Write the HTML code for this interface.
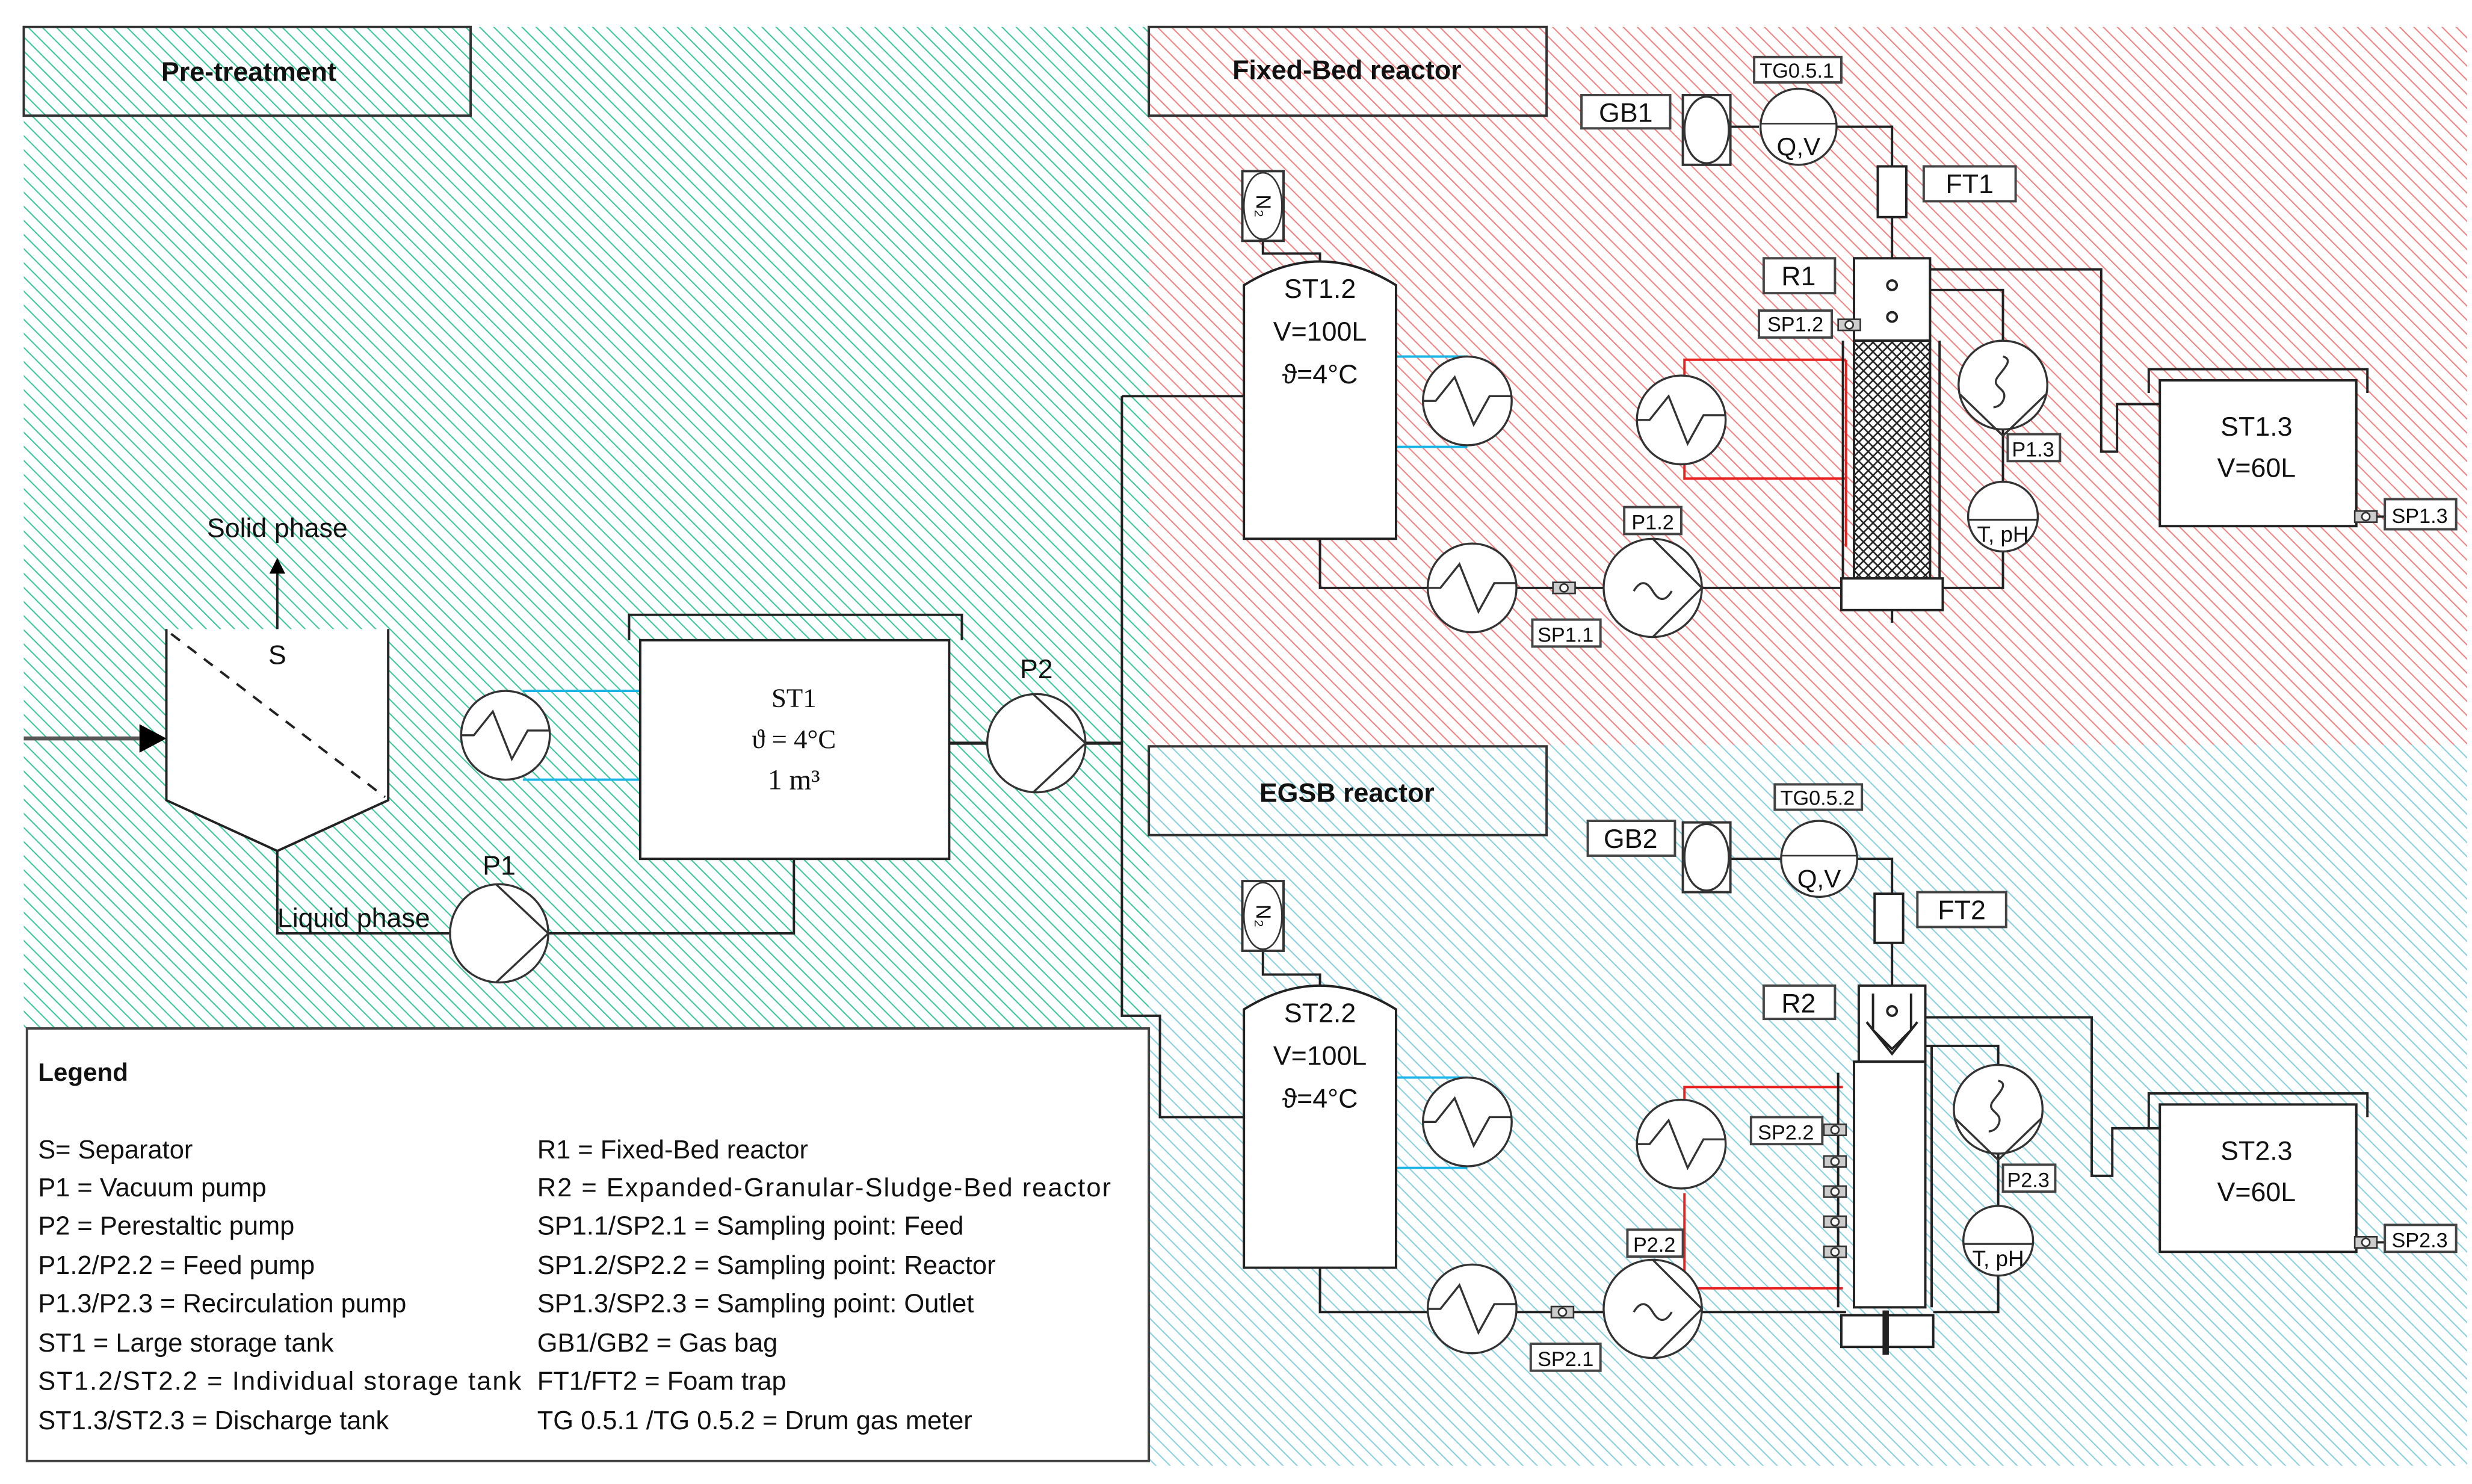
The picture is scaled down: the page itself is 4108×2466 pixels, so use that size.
<!DOCTYPE html>
<html><head><meta charset="utf-8"><style>
html,body{margin:0;padding:0;background:#fff}
svg{display:block}
text{font-family:"Liberation Sans",sans-serif;fill:#111}
</style></head><body>
<svg width="4108" height="2466" viewBox="0 0 1560 936.5" preserveAspectRatio="none" xmlns="http://www.w3.org/2000/svg">
<defs>
<pattern id="hg" patternUnits="userSpaceOnUse" width="6.3" height="6.3" patternTransform="rotate(-45)"><rect width="6.3" height="6.3" fill="#fff"/><line x1="0" y1="0" x2="0" y2="6.3" stroke="#3cc79c" stroke-width="1.6"/></pattern>
<pattern id="hr" patternUnits="userSpaceOnUse" width="6.3" height="6.3" patternTransform="rotate(-45)"><rect width="6.3" height="6.3" fill="#fff"/><line x1="0" y1="0" x2="0" y2="6.3" stroke="#f08484" stroke-width="1.6"/></pattern>
<pattern id="hb" patternUnits="userSpaceOnUse" width="6.3" height="6.3" patternTransform="rotate(-45)"><rect width="6.3" height="6.3" fill="#fff"/><line x1="0" y1="0" x2="0" y2="6.3" stroke="#8acfdf" stroke-width="1.6"/></pattern>
<pattern id="xh" patternUnits="userSpaceOnUse" width="6" height="6"><rect width="6" height="6" fill="#fff"/><path d="M0,0L6,6M6,0L0,6" stroke="#222" stroke-width="1"/></pattern>
<g id="hx"><circle r="28" fill="#fff" stroke="#333" stroke-width="1.3"/><polyline points="-28,0 -20,0 -8,-15 4,15 14,-3 28,-3" fill="none" stroke="#333" stroke-width="1.3"/></g>
<g id="pump"><circle r="31" fill="#fff" stroke="#333" stroke-width="1.3"/><path d="M-2,-31L31,0L-2,31" fill="none" stroke="#333" stroke-width="1.3"/></g>
<g id="fpump"><circle r="31" fill="#fff" stroke="#333" stroke-width="1.3"/><path d="M0,-31L31,0L0,31" fill="none" stroke="#333" stroke-width="1.3"/><path d="M-12,2 q6,-10 12,0 t12,0" fill="none" stroke="#333" stroke-width="1.3"/></g>
<g id="rpump"><circle r="28" fill="#fff" stroke="#333" stroke-width="1.3"/><path d="M-27,6L0,32L27,6" fill="none" stroke="#333" stroke-width="1.3"/><path d="M0,-18 c8,2 -2,10 -4,14 c-3,6 8,6 4,14 c-2,4 -6,4 -6,4" fill="none" stroke="#333" stroke-width="1.3"/></g>
<g id="tph"><circle r="22" fill="#fff" stroke="#333" stroke-width="1.3"/><line x1="-22" y1="2" x2="22" y2="2" stroke="#333" stroke-width="1.3"/><text x="0" y="16" font-size="14" text-anchor="middle">T, pH</text></g>
<g id="valve"><rect x="-7" y="-3.5" width="14" height="7" fill="#ccc" stroke="#333"/><circle r="2.5" fill="#fff" stroke="#333"/></g>
<g id="n2"><rect x="-13" y="-22" width="26" height="44" fill="#fff" stroke="#333" stroke-width="1.5"/><ellipse rx="12" ry="21" fill="#fff" stroke="#333"/><text x="0" y="4" font-size="13" text-anchor="middle" transform="rotate(90)">N₂</text></g>
<g id="gbag"><rect x="-15" y="-22" width="30" height="44" fill="#fff" stroke="#333" stroke-width="1.5"/><ellipse rx="14" ry="21" fill="#fff" stroke="#333" stroke-width="1.3"/></g>
<g id="meter"><circle r="24" fill="#fff" stroke="#333" stroke-width="1.3"/><line x1="-24" y1="-2" x2="24" y2="-2" stroke="#333"/><text x="0" y="18" font-size="16" text-anchor="middle">Q,V</text></g>
</defs>
<rect width="1560" height="936.5" fill="#fff"/>
<rect x="15" y="17" width="710" height="632" fill="url(#hg)"/>
<rect x="725" y="17" width="832" height="453" fill="url(#hr)"/>
<rect x="725" y="470" width="832" height="455" fill="url(#hb)"/>

<g stroke="#333" stroke-width="1.5" fill="none">
<rect x="15" y="17" width="282" height="56"/>
<rect x="725" y="17" width="251" height="56"/>
<rect x="725" y="471" width="251" height="56"/>
</g>
<text x="157" y="51" font-size="17" font-weight="bold" text-anchor="middle">Pre-treatment</text>
<text x="850" y="50" font-size="17" font-weight="bold" text-anchor="middle">Fixed-Bed reactor</text>
<text x="850" y="506" font-size="17" font-weight="bold" text-anchor="middle">EGSB reactor</text>

<g stroke="#222" stroke-width="1.5" fill="none">
<path d="M105,397V505L175,537L245,505V397" fill="#fff"/>
<line x1="108" y1="400" x2="243" y2="503" stroke-dasharray="7,6"/>
<line x1="175" y1="397" x2="175" y2="358"/>
<line x1="15" y1="466" x2="88" y2="466" stroke="#555" stroke-width="2.5"/>
<path d="M175,537V589H501V542"/>
<line x1="330" y1="436" x2="404" y2="436" stroke="#19b4e6"/>
<line x1="330" y1="492" x2="404" y2="492" stroke="#19b4e6"/>
<rect x="404" y="404" width="195" height="138" fill="#fff"/>
<path d="M397,404V388H607V404"/>
<line x1="599" y1="469" x2="708" y2="469" stroke-width="2"/>
<path d="M708,250V641H732V705H785"/>
<line x1="708" y1="250" x2="785" y2="250"/>
</g>
<path d="M88,457L105,466L88,475Z" fill="#000"/>
<path d="M170,362L175,352L180,362Z" fill="#000"/>
<text x="175" y="339" font-size="17" text-anchor="middle">Solid phase</text>
<text x="175" y="419" font-size="17" text-anchor="middle">S</text>
<text x="175" y="585" font-size="17">Liquid phase</text>
<text x="315" y="552" font-size="17" text-anchor="middle">P1</text>
<use href="#pump" x="315" y="589"/>
<use href="#hx" x="319" y="464"/>
<text x="501" y="446" font-size="17" text-anchor="middle" style="font-family:'Liberation Serif',serif">ST1</text>
<text x="501" y="472" font-size="17" text-anchor="middle" style="font-family:'Liberation Serif',serif">ϑ = 4°C</text>
<text x="501" y="498" font-size="18" text-anchor="middle" style="font-family:'Liberation Serif',serif">1 m³</text>
<use href="#pump" x="654" y="469"/>
<text x="654" y="428" font-size="17" text-anchor="middle">P2</text>

<g stroke="#222" stroke-width="1.5" fill="none">
<path d="M797,152V160H833V167"/>
<line x1="881" y1="225" x2="926" y2="225" stroke="#19b4e6"/>
<line x1="881" y1="282" x2="926" y2="282" stroke="#19b4e6"/>
<path d="M785,180Q833,150 881,180V340H785Z" fill="#fff"/>
<path d="M833,340V371H1165"/>
<path d="M1063,237V227H1165M1063,293V302H1165M1165,227V345" stroke="#e82020"/>
<path d="M1194,163V80H1135M1090,80H1110"/>
<rect x="1185" y="105" width="18" height="32" fill="#fff"/>
<path d="M1218,183H1264V371H1226"/>
<path d="M1218,170H1326V285H1336V255H1363"/>
<rect x="1363" y="240" width="124" height="92" fill="#fff"/>
<path d="M1356,248V233H1494V248"/>
<path d="M1487,326H1505"/>
<line x1="1163" y1="215" x2="1163" y2="365"/>
<line x1="1224" y1="215" x2="1224" y2="365"/>
<rect x="1170" y="163" width="48" height="52" fill="#fff"/>
<rect x="1170" y="215" width="48" height="150" fill="url(#xh)"/>
<rect x="1162" y="365" width="64" height="20" fill="#fff"/>
<line x1="1194" y1="385" x2="1194" y2="393"/>
<circle cx="1194" cy="180" r="3"/><circle cx="1194" cy="200" r="3"/>
</g>
<use href="#n2" x="797" y="130"/>
<use href="#hx" x="926" y="253"/>
<use href="#hx" x="929" y="371"/>
<use href="#valve" x="987" y="371"/>
<use href="#fpump" x="1043" y="371"/>
<use href="#hx" x="1061" y="265"/>
<use href="#rpump" x="1264" y="243"/>
<use href="#tph" x="1264" y="326"/>
<use href="#gbag" x="1077" y="82"/>
<use href="#meter" x="1135" y="80"/>
<use href="#valve" x="1167" y="205"/>
<use href="#valve" x="1493" y="326"/>
<g font-size="17" text-anchor="middle">
<text x="833" y="188">ST1.2</text><text x="833" y="215">V=100L</text><text x="833" y="242">ϑ=4°C</text>
<text x="1424" y="275">ST1.3</text><text x="1424" y="301">V=60L</text>
</g>

<g stroke="#222" stroke-width="1.5" fill="none">
<path d="M797,600V615H833V624"/>
<line x1="881" y1="680" x2="926" y2="680" stroke="#19b4e6"/>
<line x1="881" y1="737" x2="926" y2="737" stroke="#19b4e6"/>
<path d="M785,637Q833,607 881,637V800H785Z" fill="#fff"/>
<path d="M833,800V828H1165"/>
<path d="M1063,698V686H1163M1063,753V813H1163" stroke="#e82020"/>
<path d="M1194,622V542H1148M1092,542H1124"/>
<rect x="1183" y="564" width="18" height="31" fill="#fff"/>
<path d="M1215,642H1320V742H1333V712H1363"/>
<path d="M1215,660H1261V828H1220"/>
<rect x="1363" y="697" width="124" height="93" fill="#fff"/>
<path d="M1356,712V690H1494V705"/>
<path d="M1487,784H1505"/>
<line x1="1160" y1="677" x2="1160" y2="825"/>
<rect x="1173" y="622" width="42" height="48" fill="#fff"/>
<rect x="1170" y="670" width="45" height="155" fill="#fff"/>
<line x1="1219" y1="660" x2="1219" y2="825"/>
<rect x="1162" y="830" width="58" height="20" fill="#fff"/>
<line x1="1190" y1="827" x2="1190" y2="855" stroke-width="4"/>
<path d="M1182,627V650L1194,662L1206,650V627M1178,645L1194,665L1210,645"/>
<circle cx="1194" cy="638" r="3"/>
</g>
<use href="#n2" x="797" y="578"/>
<use href="#hx" x="926" y="708"/>
<use href="#hx" x="929" y="826"/>
<use href="#valve" x="986" y="828"/>
<use href="#fpump" x="1043" y="826"/>
<use href="#hx" x="1061" y="722"/>
<use href="#rpump" x="1261" y="700"/>
<use href="#tph" x="1261" y="783"/>
<use href="#gbag" x="1077" y="541"/>
<use href="#meter" x="1148" y="542"/>
<use href="#valve" x="1158" y="713"/><use href="#valve" x="1158" y="733"/><use href="#valve" x="1158" y="752"/><use href="#valve" x="1158" y="771"/><use href="#valve" x="1158" y="790"/>
<use href="#valve" x="1493" y="784"/>
<g font-size="17" text-anchor="middle">
<text x="833" y="645">ST2.2</text><text x="833" y="672">V=100L</text><text x="833" y="699">ϑ=4°C</text>
<text x="1424" y="732">ST2.3</text><text x="1424" y="758">V=60L</text>
</g>

<g fill="#fff" stroke="#444" stroke-width="1.5">
<rect x="998" y="60" width="56" height="21"/><rect x="1107" y="36" width="55" height="16"/><rect x="1214" y="105" width="58" height="22"/>
<rect x="1113" y="163" width="45" height="22"/><rect x="1110" y="196" width="46" height="17"/><rect x="1267" y="274" width="33" height="17"/>
<rect x="1025" y="320" width="36" height="17"/><rect x="967" y="391" width="43" height="17"/><rect x="1505" y="315" width="45" height="19"/>
<rect x="1002" y="518" width="55" height="22"/><rect x="1120" y="495" width="55" height="16"/><rect x="1210" y="563" width="56" height="22"/>
<rect x="1113" y="622" width="45" height="21"/><rect x="1105" y="705" width="45" height="17"/><rect x="1264" y="735" width="33" height="17"/>
<rect x="1027" y="776" width="35" height="17"/><rect x="966" y="848" width="44" height="17"/><rect x="1505" y="773" width="45" height="17"/>
</g>
<g text-anchor="middle">
<text x="1026" y="77" font-size="17">GB1</text><text x="1134" y="49" font-size="13">TG0.5.1</text><text x="1243" y="122" font-size="17">FT1</text>
<text x="1135" y="180" font-size="17">R1</text><text x="1133" y="209" font-size="13">SP1.2</text><text x="1283" y="288" font-size="13">P1.3</text>
<text x="1043" y="334" font-size="13">P1.2</text><text x="988" y="405" font-size="13">SP1.1</text><text x="1527" y="330" font-size="13">SP1.3</text>
<text x="1029" y="535" font-size="17">GB2</text><text x="1147" y="508" font-size="13">TG0.5.2</text><text x="1238" y="580" font-size="17">FT2</text>
<text x="1135" y="639" font-size="17">R2</text><text x="1127" y="719" font-size="13">SP2.2</text><text x="1280" y="749" font-size="13">P2.3</text>
<text x="1044" y="790" font-size="13">P2.2</text><text x="988" y="862" font-size="13">SP2.1</text><text x="1527" y="787" font-size="13">SP2.3</text>
</g>

<rect x="17" y="649" width="708" height="273" fill="#fff" stroke="#444" stroke-width="1.5"/>
<text x="24" y="682" font-size="16" font-weight="bold">Legend</text>
<g font-size="16.5">
<text x="24" y="731">S= Separator</text>
<text x="24" y="755">P1 = Vacuum pump</text>
<text x="24" y="779">P2 = Perestaltic pump</text>
<text x="24" y="804">P1.2/P2.2 = Feed pump</text>
<text x="24" y="828">P1.3/P2.3 = Recirculation pump</text>
<text x="24" y="853">ST1 = Large storage tank</text>
<text x="24" y="877" textLength="305">ST1.2/ST2.2 = Individual storage tank</text>
<text x="24" y="902">ST1.3/ST2.3 = Discharge tank</text>
<text x="339" y="731">R1 = Fixed-Bed reactor</text>
<text x="339" y="755" textLength="362">R2 = Expanded-Granular-Sludge-Bed reactor</text>
<text x="339" y="779">SP1.1/SP2.1 = Sampling point: Feed</text>
<text x="339" y="804">SP1.2/SP2.2 = Sampling point: Reactor</text>
<text x="339" y="828">SP1.3/SP2.3 = Sampling point: Outlet</text>
<text x="339" y="853">GB1/GB2 = Gas bag</text>
<text x="339" y="877">FT1/FT2 = Foam trap</text>
<text x="339" y="902">TG 0.5.1 /TG 0.5.2 = Drum gas meter</text>
</g>
</svg>
</body></html>
